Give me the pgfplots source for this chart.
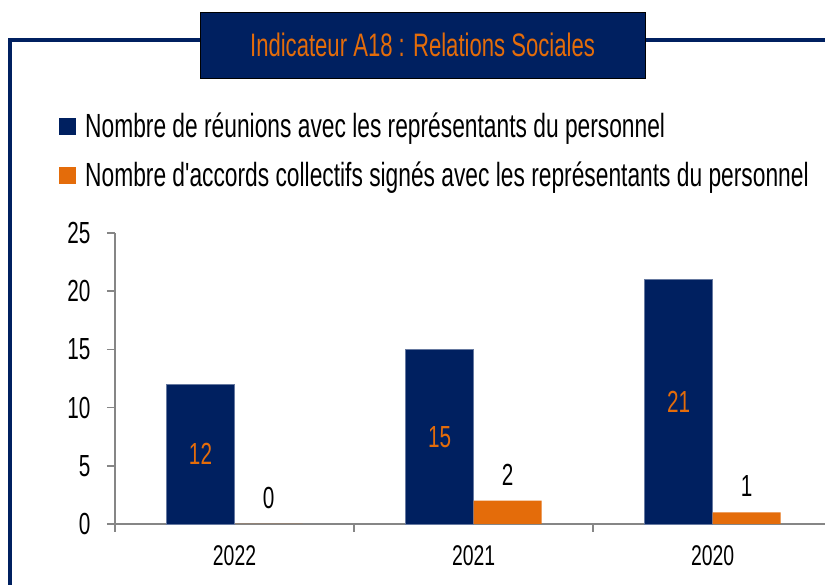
\documentclass[border=0pt]{standalone}
\usepackage{pgfplots}
\pgfplotsset{compat=1.18}
\usepackage{fontspec}
\setmainfont[FakeStretch=0.68, Ligatures=TeXOff]{Liberation Sans}
\definecolor{navy}{HTML}{002060}
\definecolor{orng}{HTML}{E46C0A}
\definecolor{axgray}{HTML}{868686}
\newcommand{\bigf}{\fontsize{33.5}{36}\selectfont}
\newcommand{\numf}{\fontsize{30.5}{33}\selectfont}
\begin{document}
\begin{tikzpicture}[x=1pt,y=1pt]
\path[use as bounding box] (0,0) rectangle (825,585);
% frame
\draw[navy, line width=4pt] (10,-5) -- (10,545) -- (830,545);
\node[draw=black, fill=navy, line width=0.8pt, minimum width=445pt, minimum height=66pt, inner sep=0pt]
  at (422.5,540) {\fontsize{32.5}{36}\selectfont\color{orng}Indicateur A18 : Relations Sociales};
\begin{axis}[
  at={(115pt,61pt)}, anchor=south west,
  scale only axis, width=710pt, height=291pt,
  xmin=-0.5, xmax=2.47, ymin=0, ymax=25,
  ybar, bar width=68pt,
  axis x line=bottom, axis y line=left,
  axis line style={axgray, line width=1.5pt, -},
  xtick={-0.5,0.5,1.5}, xticklabels={},
  extra x ticks={0,1,2}, extra x tick labels={2022,2021,2020},
  extra x tick style={tick style={draw=none}, xticklabel style={yshift=-10pt}},
  ytick={0,5,...,25},
  tick align=outside, major tick length=8pt,
  tick style={axgray, line width=1.5pt},
  xticklabel style={font=\fontsize{28.5}{30}\selectfont},
  yticklabel style={font=\numf, xshift=-13pt},
  /pgf/number format/assume math mode=true,
  clip=false,
  nodes near coords,
  every node near coord/.append style={font=\numf},
  legend style={at={(rel axis cs:-0.0789,1.42)}, anchor=north west, draw=none, fill=none,
    font=\bigf, row sep=19pt, inner sep=0pt, nodes={inner sep=2pt},
    /tikz/every odd column/.append style={column sep=7pt}},
  legend cell align=left,
  legend image code/.code={\draw[#1, draw=none] (0pt,-9pt) rectangle (17pt,8pt);},
]
\addplot[fill=navy, draw=navy!60!white, line width=0.6pt, bar shift=-34pt,
  visualization depends on={rawy \as \ry},
  every node near coord/.append style={orng, anchor=center, yshift=-\ry*5.82pt}]
  coordinates {(0,12) (1,15) (2,21)};
\addlegendentry{Nombre de réunions avec les représentants du personnel}
\addplot[fill=orng, draw=none, bar shift=34pt,
  every node near coord/.append style={black, anchor=center, yshift=26pt}]
  coordinates {(0,0) (1,2) (2,1)};
\addlegendentry{Nombre d'accords collectifs signés avec les représentants du personnel}
\end{axis}
\end{tikzpicture}
\end{document}
